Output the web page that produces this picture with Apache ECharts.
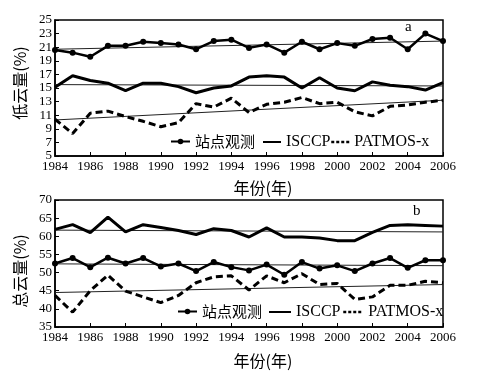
<!DOCTYPE html>
<html><head><meta charset="utf-8">
<script src="https://cdn.jsdelivr.net/npm/echarts@6/dist/echarts.min.js"></script>
<style>html,body{margin:0;padding:0;background:#fff}#c{width:482px;height:373px}</style>
</head><body><div id="c"></div>
<script>
const years = [1984,1985,1986,1987,1988,1989,1990,1991,1992,1993,1994,1995,1996,1997,1998,1999,2000,2001,2002,2003,2004,2005,2006];
// Panel a: low cloud amount (%)
const lowStation = [20.6,20.2,19.6,21.2,21.2,21.8,21.6,21.4,20.7,21.9,22.1,20.9,21.4,20.2,21.8,20.7,21.6,21.2,22.2,22.4,20.7,23.0,21.9];
const lowISCCP   = [15.1,16.8,16.1,15.7,14.6,15.7,15.7,15.2,14.3,15.0,15.3,16.6,16.8,16.6,15.0,16.5,15.0,14.6,15.9,15.4,15.2,14.7,15.8];
const lowPATMOS  = [10.4,8.3,11.3,11.6,10.8,10.1,9.3,9.9,12.7,12.2,13.5,11.4,12.6,12.9,13.6,12.7,12.9,11.5,10.9,12.3,12.5,12.9,13.2];
const lowTrendStation = [20.7,21.9];
const lowTrendISCCP   = [15.5,15.3];
const lowTrendPATMOS  = [10.3,13.2];
// Panel b: total cloud amount (%)
const totStation = [52.5,54.0,51.5,54.1,52.5,54.0,51.7,52.5,50.4,52.9,51.5,50.6,52.2,49.4,52.9,51.1,52.0,50.4,52.5,54.0,51.3,53.4,53.4];
const totISCCP   = [61.9,63.2,61.0,65.3,61.2,63.2,62.4,61.6,60.5,62.1,61.6,59.8,62.3,59.8,59.8,59.5,58.8,58.8,61.1,63.0,63.2,63.0,62.8];
const totPATMOS  = [43.7,39.1,45.0,49.3,44.9,43.3,41.7,43.7,47.2,48.8,49.1,45.2,49.1,47.2,49.7,46.7,47.0,42.6,43.3,46.5,46.5,47.6,47.2];
const totTrendStation = [52.4,51.9];
const totTrendISCCP   = [61.7,61.2];
const totTrendPATMOS  = [44.5,46.7];
const lowTicks = [5,25,2];
const totTicks = [35,70,5];
const names = ['站点观测','ISCCP','PATMOS-x'];

const SERIF = "'Liberation Serif','Noto Sans CJK SC',serif";
const CJK = "'Noto Sans CJK SC','Liberation Serif',serif";
const pair = arr => arr.map((v,i)=>[years[i],v]);
const trend = t => [[years[0],t[0]],[years[years.length-1],t[1]]];

function xAxis(gi){
  return {type:'value', gridIndex:gi, min:1984, max:2006, interval:2,
    axisLine:{show:true,lineStyle:{color:'#000',width:1.5}},
    axisTick:{show:true,inside:true,length:4,lineStyle:{color:'#000'}},
    axisLabel:{color:'#000',fontFamily:SERIF,fontSize:13,margin:4,formatter:v=>String(v)},
    splitLine:{show:false},
    name:'年份(年)', nameLocation:'middle', nameGap: gi===0?24:26,
    nameTextStyle:{color:'#000',fontFamily:CJK,fontSize:16,padding:[0,0,0,28]}};
}
function yAxis(gi,t,name,pad){
  return {type:'value', gridIndex:gi, min:t[0], max:t[1], interval:t[2],
    axisLine:{show:true,lineStyle:{color:'#000',width:1.5}},
    axisTick:{show:true,inside:true,length:4,lineStyle:{color:'#000'}},
    axisLabel:{color:'#000',fontFamily:SERIF,fontSize:13,margin:3},
    splitLine:{show:false},
    name:name, nameLocation:'middle', nameRotate:90, nameGap: gi===0?27:25,
    nameTextStyle:{color:'#000',fontFamily:CJK,fontSize:16,padding:pad}};
}
function seriesFor(gi,st,is,pa,tst,tis,tpa){
  const base = {xAxisIndex:gi,yAxisIndex:gi,type:'line',animation:false,silent:true};
  return [
    Object.assign({},base,{name:names[0],data:pair(st),symbol:'circle',symbolSize:6,showSymbol:true,
      itemStyle:{color:'#000'},lineStyle:{color:'#000',width:2.5},z:5}),
    Object.assign({},base,{name:names[1],data:pair(is),symbol:'circle',showSymbol:false,
      itemStyle:{color:'#000'},lineStyle:{color:'#000',width:3},z:4}),
    Object.assign({},base,{name:names[2],data:pair(pa),symbol:'circle',showSymbol:false,
      itemStyle:{color:'#000'},lineStyle:{color:'#000',width:3,type:[7,4]},z:4}),
    Object.assign({},base,{name:'t1',data:trend(tst),symbol:'none',lineStyle:{color:'#222',width:1},z:3}),
    Object.assign({},base,{name:'t2',data:trend(tis),symbol:'none',lineStyle:{color:'#222',width:1},z:3}),
    Object.assign({},base,{name:'t3',data:trend(tpa),symbol:'none',lineStyle:{color:'#222',width:1},z:3})
  ];
}
const hideSym = {color:'rgba(0,0,0,0)',borderColor:'rgba(0,0,0,0)',borderWidth:0,opacity:0};
function legendItem(idx,left,top,w){
  let item = {name:names[idx]};
  if (idx===1) item = {name:names[idx], itemStyle:hideSym};
  if (idx===2) item = {name:names[idx], itemStyle:hideSym, lineStyle:{color:'#000',width:2.5,type:[3,2]}};
  return {data:[item], left:left, top:top, itemWidth:w, itemHeight:7, selectedMode:false, padding:0,
    textStyle:{color:'#000',fontFamily: idx===0?CJK:SERIF, fontSize: idx===0?15:16}};
}

const chart = echarts.init(document.getElementById('c'),null,{renderer:'canvas'});
chart.setOption({
  backgroundColor:'#fff',
  animation:false,
  grid:[
    {left:55,right:39,top:20,height:136,show:true,borderColor:'#000',borderWidth:1.5,backgroundColor:'transparent'},
    {left:55,right:39,top:200,height:127,show:true,borderColor:'#000',borderWidth:1.5,backgroundColor:'transparent'}
  ],
  xAxis:[xAxis(0),xAxis(1)],
  yAxis:[yAxis(0,lowTicks,'低云量(%)',[0,0,0,10]),yAxis(1,totTicks,'总云量(%)',[0,15,0,0])],
  legend:[
    legendItem(0,170,134,19), legendItem(1,262,134,18), legendItem(2,330,134,18),
    legendItem(0,177,304,19), legendItem(1,268,304,22), legendItem(2,342,304,20)
  ],
  graphic:[
    {type:'text',left:405,top:20,style:{text:'a',font:"15px 'Liberation Serif',serif",fill:'#000'}},
    {type:'text',left:413,top:204,style:{text:'b',font:"15px 'Liberation Serif',serif",fill:'#000'}}
  ],
  series:[].concat(
    seriesFor(0,lowStation,lowISCCP,lowPATMOS,lowTrendStation,lowTrendISCCP,lowTrendPATMOS),
    seriesFor(1,totStation,totISCCP,totPATMOS,totTrendStation,totTrendISCCP,totTrendPATMOS)
  )
});
</script></body></html>
